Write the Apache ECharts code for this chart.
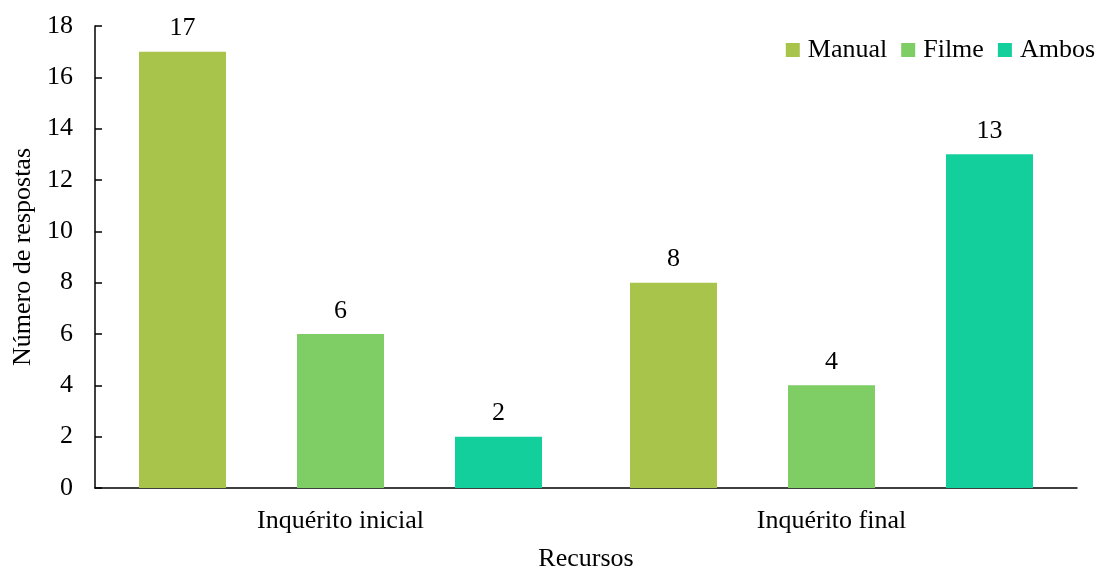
<!DOCTYPE html>
<html><head><meta charset="utf-8">
<script src="https://cdn.jsdelivr.net/npm/echarts@6/dist/echarts.min.js"></script>
<style>html,body{margin:0;padding:0;background:#fff}#c{width:1101px;height:577px}</style>
</head><body><div id="c"></div>
<script>
const categories = ['Inquérito inicial', 'Inquérito final'];
const seriesNames = ['Manual', 'Filme', 'Ambos'];
const manual = [17, 8];
const filme = [6, 4];
const ambos = [2, 13];
const colors = ['#A8C44B', '#7ECD65', '#13CF9C'];
const font = 'Liberation Serif';
const fs = 26;
const chart = echarts.init(document.getElementById('c'));
const mk = (name, data, color) => ({
  name, type: 'bar', data, barWidth: 87, barGap: '81.6%',
  itemStyle: { color },
  label: { show: true, position: 'top', distance: 10, color: '#000', fontFamily: font, fontSize: fs }
});
chart.setOption({
  animation: false,
  textStyle: { fontFamily: font },
  grid: { left: 95, right: 24, top: 26, bottom: 81, containLabel: false },
  legend: {
    right: 1, top: 32, itemWidth: 14, itemHeight: 14, itemGap: 14,
    icon: 'rect',
    textStyle: { fontFamily: font, fontSize: fs, color: '#000', padding: [0, 0, 0, 3] },
    data: seriesNames
  },
  xAxis: {
    type: 'category', data: categories,
    name: 'Recursos', nameLocation: 'middle', nameGap: 58,
    nameTextStyle: { fontFamily: font, fontSize: fs, color: '#000' },
    axisLine: { lineStyle: { color: '#000', width: 1.5 } },
    axisTick: { show: false },
    axisLabel: { fontFamily: font, fontSize: fs, color: '#000', margin: 20 }
  },
  yAxis: {
    type: 'value', min: 0, max: 18, interval: 2,
    name: 'Número de respostas', nameLocation: 'middle', nameGap: 57,
    nameTextStyle: { fontFamily: font, fontSize: fs, color: '#000' },
    axisLine: { show: true, lineStyle: { color: '#000', width: 1.5 } },
    axisTick: { show: true, inside: true, length: 7, lineStyle: { color: '#000', width: 1.5 } },
    splitLine: { show: false },
    axisLabel: { fontFamily: font, fontSize: fs, color: '#000', margin: 22 }
  },
  series: [mk(seriesNames[0], manual, colors[0]), mk(seriesNames[1], filme, colors[1]), mk(seriesNames[2], ambos, colors[2])]
});
</script></body></html>
